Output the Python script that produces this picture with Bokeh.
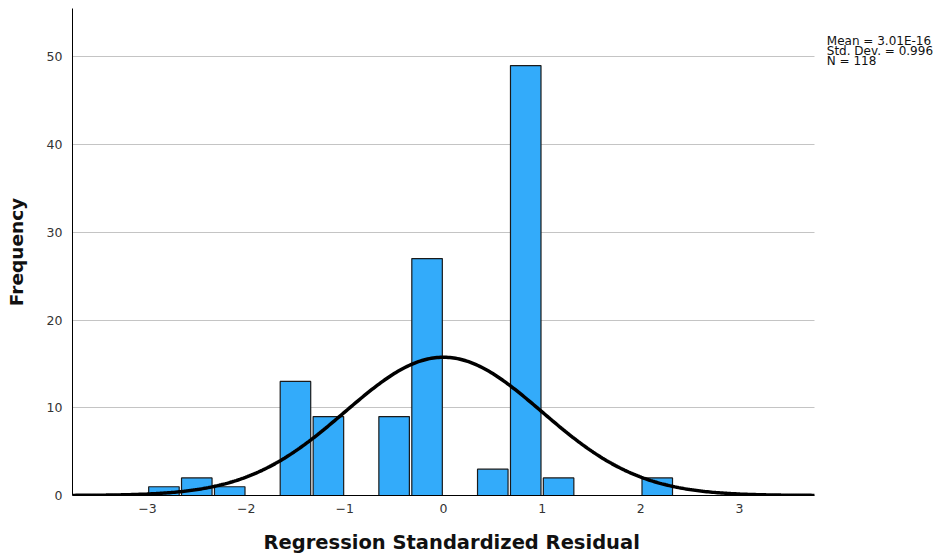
import numpy as np
from bokeh.plotting import figure
from bokeh.models import Range1d, Label, FixedTicker, ColumnDataSource, Title
from bokeh.embed import file_html
from bokeh.resources import INLINE

# Histogram data (bins of width 1/3)
bin_lefts = [-3.0, -2.667, -2.333, -1.667, -1.333, -0.667, -0.333, 0.333, 0.667, 1.0, 2.0]
counts = [1, 2, 1, 13, 9, 9, 27, 3, 49, 2, 2]
bin_width = 1 / 3

# Stated fit parameters
mean_val = 3.01e-16
std_val = 0.996
n_val = 118
stats_lines = ["Mean = 3.01E-16", "Std. Dev. = 0.996", "N = 118"]

x_ticks = [-3, -2, -1, 0, 1, 2, 3]
y_ticks = [0, 10, 20, 30, 40, 50]
x_title = "Regression Standardized Residual"
y_title = "Frequency"

FONT = "DejaVu Sans"
X0, X1 = -3.76, 3.76          # axis extent
XR = 5.007                    # frame extends right to hold the stats text

p = figure(frame_width=865, frame_height=487, output_backend="svg",
           toolbar_location=None, min_border_left=72, min_border_right=0,
           min_border_top=8, min_border_bottom=2,
           x_range=Range1d(X0, XR), y_range=Range1d(0, 55.5))
p.outline_line_color = None
p.background_fill_color = "white"
p.border_fill_color = "white"

# grid lines limited to the axis extent
p.xgrid.grid_line_color = None
g = p.ygrid[0]
if "cross_bounds" in g.properties():
    g.cross_bounds = (X0, X1)
    g.grid_line_color = "#c4c4c4"
    g.grid_line_width = 1
else:
    g.grid_line_color = None
    gy = y_ticks[1:]
    p.segment(x0=[X0] * len(gy), x1=[X1] * len(gy), y0=gy, y1=gy,
              line_color="#c4c4c4", line_width=1, level="underlay")

inset = 0.012
lefts = [b + inset for b in bin_lefts]
rights = [b + bin_width - inset for b in bin_lefts]
src = ColumnDataSource(dict(left=lefts, right=rights, top=counts, bottom=[0] * len(counts)))
p.quad(left="left", right="right", top="top", bottom="bottom", source=src,
       fill_color="#33abfa", line_color="#1a1a1a", line_width=1.2)

xs = np.linspace(X0, X1, 400)
ys = n_val * bin_width * np.exp(-0.5 * ((xs - mean_val) / std_val) ** 2) / (std_val * np.sqrt(2 * np.pi))
p.line(xs, ys, line_color="black", line_width=3.5)

# Axes
p.xaxis.ticker = FixedTicker(ticks=x_ticks)
p.yaxis.ticker = FixedTicker(ticks=y_ticks)
p.xaxis.bounds = (X0, X1)
for ax in (p.xaxis[0], p.yaxis[0]):
    ax.major_tick_out = 0
    ax.major_tick_in = 0
    ax.minor_tick_out = 0
    ax.minor_tick_in = 0
    ax.axis_line_color = "black"
    ax.axis_line_width = 1
    ax.major_label_text_font = FONT
    ax.major_label_text_font_size = "12.5px"
    ax.major_label_text_color = "#333333"
    ax.axis_label_text_font = FONT
    ax.axis_label_text_font_style = "bold"
    ax.axis_label_text_font_size = "18.5px"
    ax.axis_label_text_color = "#111111"

p.yaxis.axis_label = y_title
p.xaxis.major_label_standoff = 8
p.yaxis.major_label_standoff = 10
p.yaxis.axis_label_standoff = 17

# x-axis title centred under the axis extent (not the whole frame)
p.add_layout(Title(text=x_title, align="left", offset=191, standoff=27,
                   text_font=FONT, text_font_style="bold", text_font_size="19.5px",
                   text_color="#111111"), "below")

# Stats text to the right of the axis extent
ys_lab = [51.85, 50.71, 49.57]
for txt, yl in zip(stats_lines, ys_lab):
    p.add_layout(Label(x=3.885, y=yl, text=txt,
                       text_font=FONT, text_font_size="12px",
                       text_color="#111111", text_baseline="middle", text_align="left"))

open("out.html", "w").write(file_html(p, INLINE))
